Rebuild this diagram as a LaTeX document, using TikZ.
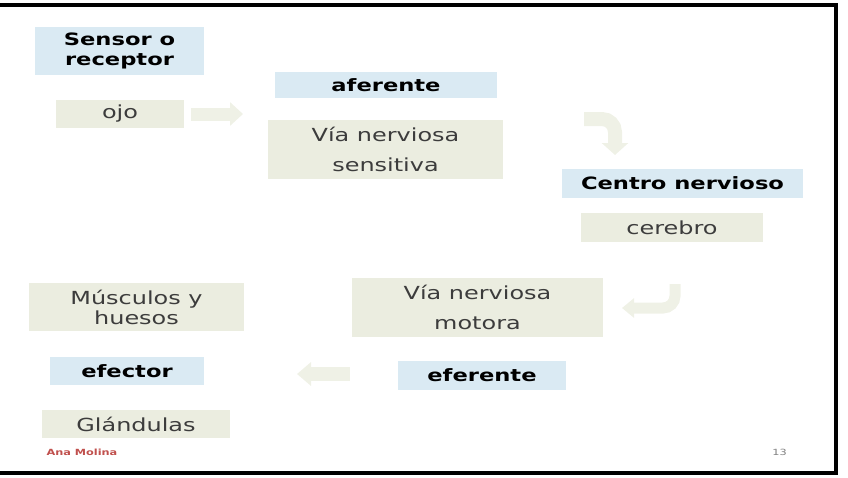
\documentclass[tikz,border=0pt]{standalone}
\usepackage{fontspec}
\setmainfont{DejaVu Sans}[FakeStretch=1.33]
\usetikzlibrary{arrows.meta, positioning}
\definecolor{cblue}{HTML}{DAEAF3}
\definecolor{cgreen}{HTML}{EBEDE0}
\definecolor{carrow}{HTML}{EFF1E6}
\definecolor{ctext}{HTML}{3C3C3C}
\definecolor{cred}{HTML}{C0504D}
\tikzset{
  every picture/.style={x=1pt, y=-1pt},
  term/.style={fill=cblue, inner sep=0pt, align=center, text=black, font=\fontsize{17}{20}\selectfont\bfseries},
  item/.style={fill=cgreen, inner sep=0pt, align=center, text=ctext, font=\fontsize{18}{20}\selectfont},
  itemwide/.style={item, font=\fontsize{18}{30}\selectfont},
  flow/.style={draw=carrow, line width=13pt, -{Triangle[length=13pt, width=23pt]}},
  frame/.style={draw=black, line width=4pt},
  foot/.style={font=\fontsize{8.5}{10}\selectfont},
}
\begin{document}
\begin{tikzpicture}
  \useasboundingbox (0,0) rectangle (848,477);
  \draw[frame] (0,5) -- (835.5,5) -- (835.5,472.5) -- (0,472.5);
  % receptor side
  \node[term, minimum width=169pt, minimum height=48pt] (sensor) at (119.5,51) {Sensor o\\receptor};
  \node[item, minimum width=128pt, minimum height=28pt] (ojo) at (120,114) {ojo};
  \node[term, minimum width=222pt, minimum height=26pt] (aferente) at (386,85) {aferente};
  \node[itemwide, minimum width=235pt, minimum height=59pt] (sensitiva) at (385.5,149.5) {Vía nerviosa\\sensitiva};
  % centre
  \node[term, minimum width=241pt, minimum height=29pt] (centro) at (682.5,183.5) {Centro nervioso};
  \node[item, minimum width=182pt, minimum height=29pt] (cerebro) at (672,227.5) {cerebro};
  % effector side
  \node[itemwide, minimum width=251pt, minimum height=59pt] (motora) at (477.5,307.5) {Vía nerviosa\\motora};
  \node[term, minimum width=168pt, minimum height=29pt] (eferente) at (482,375.5) {eferente};
  \node[item, minimum width=215pt, minimum height=48pt] (musculos) at (136.5,307) {Músculos y\\huesos};
  \node[term, minimum width=154pt, minimum height=28pt] (efector) at (127,371) {efector};
  \node[item, minimum width=188pt, minimum height=28pt] (glandulas) at (136,424) {Glándulas};
  % block arrows
  \coordinate (d1) at (243,114);
  \coordinate (a1) at (584,119);
  \coordinate (a2) at (615,155);
  \coordinate (b1) at (675,284);
  \coordinate (b2) at (622,308);
  \coordinate (c1) at (350,374);
  \coordinate (c2) at (297,374);
  \draw[flow] ([xshift=7pt]ojo.east) -- (d1);
  \draw[flow, line width=14pt, -{Triangle[length=12pt, width=26pt]}, rounded corners=13pt] (a1) -| (a2);
  \draw[flow, line width=11pt, -{Triangle[length=12pt, width=19pt]}, rounded corners=12pt] (b1) |- (b2);
  \draw[flow, line width=14pt, -{Triangle[length=14pt, width=23pt]}] (c1) -- (c2);
  % footer
  \node[foot, text=cred, font=\fontsize{8.5}{10}\selectfont\bfseries, anchor=west] (autor) at (43,452) {Ana Molina};
  \node[foot, text=gray, anchor=center] (pagina) at (779.5,452) {13};
\end{tikzpicture}
\end{document}
